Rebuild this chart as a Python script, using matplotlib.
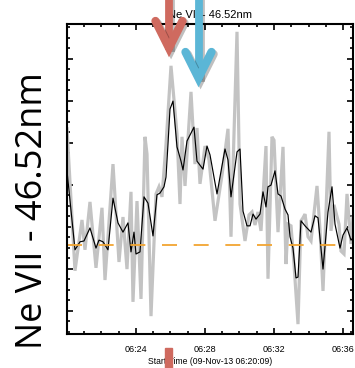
import numpy as np
import matplotlib
matplotlib.use("Agg")
import matplotlib.pyplot as plt
from matplotlib.lines import Line2D
from matplotlib.patches import Rectangle
from matplotlib.ticker import MultipleLocator, FixedLocator, FuncFormatter
import matplotlib.patheffects as pe

plt.rcParams['font.family'] = ['Liberation Sans', 'DejaVu Sans']
plt.rcParams['lines.scale_dashes'] = False

#Raw light curve (minutes after 06:20:00, arbitrary intensity)
t_raw = [0.00, 0.464, 0.870, 1.043, 1.333, 1.681, 2.029, 2.203, 2.667, 3.014,
         3.246, 3.478, 3.710, 3.826, 4.058, 4.290, 4.522, 4.638, 4.870, 5.159,
         5.333, 5.507, 5.739, 6.029, 6.377, 6.551, 6.667, 6.841, 7.188, 7.420,
         7.536, 7.710, 8.000, 8.232, 8.580, 8.986, 9.333, 9.507, 9.855, 10.029,
         10.319, 10.551, 10.725, 10.899, 11.072, 11.246, 11.536, 11.652, 11.884, 12.000,
         12.232, 12.522, 12.696, 12.812, 12.986, 13.159, 13.391, 13.565, 13.681, 13.797,
         13.971, 14.145, 14.493, 14.667, 14.841, 15.188, 15.304, 15.478, 15.768, 15.884,
         16.058, 16.232, 16.464, 16.580]
y_raw = [53.3, 19.5, 31.6, 24.5, 35.9, 20.2, 34.5, 17.3, 44.9, 21.6,
         32.3, 19.9, 38.3, 12.1, 36.1, 12.8, 51.4, 47.3, 8.7, 37.8,
         39.5, 37.1, 49.5, 68.3, 52.1, 35.4, 51.4, 39.7, 62.1, 44.9,
         53.5, 40.2, 49.2, 45.9, 31.4, 42.3, 53.3, 27.6, 76.4, 35.4,
         26.6, 32.8, 33.5, 30.4, 33.5, 29.0, 49.2, 17.6, 51.4, 50.6,
         28.7, 49.0, 21.1, 30.6, 30.2, 21.1, 6.8, 31.4, 32.1, 33.0,
         27.6, 26.6, 39.7, 29.2, 14.7, 52.6, 29.0, 35.2, 30.6, 24.2,
         23.5, 37.8, 25.9, 32.3]

#Smoothed light curve
t_smooth = [0.00, 0.464, 0.754, 0.986, 1.333, 1.681, 1.855, 2.087, 2.377, 2.667,
            2.957, 3.246, 3.536, 3.710, 3.884, 4.000, 4.232, 4.464, 4.696, 4.986,
            5.217, 5.391, 5.623, 5.739, 5.855, 5.971, 6.145, 6.377, 6.609, 6.725,
            6.957, 7.362, 7.536, 7.884, 8.116, 8.290, 8.696, 9.159, 9.333, 9.507,
            9.855, 10.029, 10.203, 10.435, 10.609, 10.783, 10.957, 11.188, 11.362, 11.536,
            11.652, 11.826, 12.058, 12.232, 12.406, 12.638, 12.812, 12.928, 13.101, 13.275,
            13.391, 13.565, 13.797, 14.145, 14.377, 14.551, 14.841, 15.130, 15.362, 15.536,
            15.826, 16.000, 16.232, 16.464, 16.638]
y_smooth = [43.3, 24.5, 26.4, 26.6, 29.7, 24.9, 26.8, 26.4, 24.5, 36.8,
            30.9, 28.7, 30.9, 24.0, 28.7, 23.5, 24.0, 37.1, 35.6, 27.8,
            37.6, 38.0, 39.5, 41.8, 49.7, 58.0, 59.9, 49.0, 45.6, 43.5,
            50.4, 53.7, 45.6, 43.7, 49.2, 47.1, 37.8, 48.5, 45.9, 37.1,
            47.8, 48.5, 33.7, 30.2, 30.2, 33.0, 31.8, 33.0, 38.3, 34.7,
            39.5, 39.9, 43.3, 37.8, 37.3, 34.2, 32.8, 27.6, 24.9, 17.8,
            18.0, 31.4, 30.2, 28.7, 32.6, 32.1, 19.9, 33.5, 39.5, 30.6,
            24.9, 28.0, 29.7, 26.8, 27.6]

#Background level
background = 25.6

#Labelled ticks (minutes after 06:20)
tick_minutes = [4, 8, 12, 16]

fig = plt.figure(figsize=(3.55, 3.68), dpi=100)
ax = fig.add_axes([0.1887, 0.0924, 0.8057, 0.8424])

ax.plot(t_raw, y_raw, color='#c3c3c3', lw=2.3, solid_joinstyle='miter')
ax.plot(t_smooth, y_smooth, color='black', lw=0.85)
ax.axhline(background, color='#f2a532', lw=1.3, dashes=(10.8, 12.0))

ax.set_xlim(0, 16.58)
ax.set_ylim(4.45, 78.26)

ax.xaxis.set_major_locator(FixedLocator(tick_minutes))
ax.xaxis.set_minor_locator(MultipleLocator(1))
ax.xaxis.set_major_formatter(FuncFormatter(lambda m, pos: "06:%02d" % (20 + int(round(m)))))
ax.yaxis.set_major_locator(MultipleLocator(10))
ax.yaxis.set_minor_locator(MultipleLocator(2.5))
ax.set_yticklabels([])
ax.tick_params(which='both', direction='in', top=True, right=True, width=1.2)
ax.tick_params(which='major', length=4.0)
ax.tick_params(which='minor', length=2.0)
ax.tick_params(axis='x', labelsize=6.5, pad=8)
for s in ax.spines.values():
    s.set_linewidth(1.5)

ax.set_xlabel("Start Time (09-Nov-13 06:20:09)", fontsize=6.2, labelpad=2)
ax.set_title("Ne VII - 46.52nm", fontsize=8, pad=4)

fig.text(0.093, 0.427, "Ne VII - 46.52nm", family=['Open Sans', 'DejaVu Sans'],
         fontsize=26, rotation=90, ha='center', va='center')

#Overlay in pixel coordinates for the arrows
ov = fig.add_axes([0, 0, 1, 1], zorder=10)
ov.set_xlim(0, 355)
ov.set_ylim(368, 0)
ov.axis('off')
shadow = [pe.SimpleLineShadow(offset=(1.5, -1.5), shadow_color='k', alpha=0.25), pe.Normal()]

red = '#cf6a5f'
blue = '#5bb6d6'
ov.add_line(Line2D([169, 169], [-5, 46], color=red, lw=5.6, path_effects=shadow))
ov.add_line(Line2D([155.5, 169, 182.5], [21, 48, 21], color=red, lw=6.0,
                   solid_capstyle='round', solid_joinstyle='miter', path_effects=shadow))
ov.add_line(Line2D([198.5, 198.5], [-5, 76], color=blue, lw=5.6, path_effects=shadow))
ov.add_line(Line2D([185.5, 198.5, 211.5], [52, 78, 52], color=blue, lw=6.0,
                   solid_capstyle='round', solid_joinstyle='miter', path_effects=shadow))
ov.add_patch(Rectangle((165, 348), 7, 22, color=red))

fig.savefig("out.png", dpi=100)
